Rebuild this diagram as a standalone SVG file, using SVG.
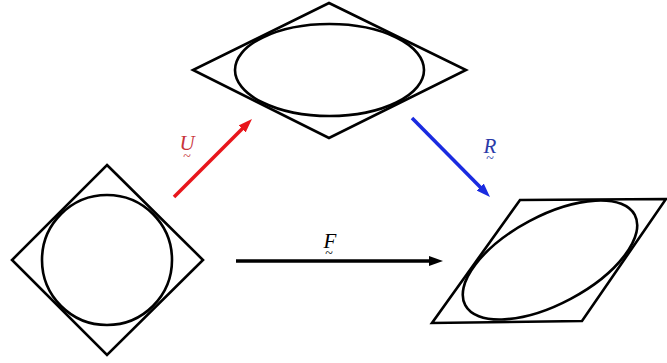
<svg xmlns="http://www.w3.org/2000/svg" width="667" height="363" viewBox="0 0 667 363">
<style>
.shape{fill:none;stroke:#000;stroke-width:2.6;stroke-linejoin:miter}
.arr{fill:none;stroke-width:3.6}
.lbl{font-family:"Liberation Serif",serif;font-style:italic;font-size:21px;text-anchor:middle}
.til{font-family:"Liberation Serif",serif;font-size:14px;text-anchor:middle}
</style>
<defs>
<marker id="hr" viewBox="0 -5 14 10" markerWidth="14" markerHeight="10" refX="2" refY="0" orient="auto" markerUnits="userSpaceOnUse"><path d="M0,-5 L14,0 L0,5 z" fill="#e8161c"/></marker>
<marker id="hb" viewBox="0 -5 14 10" markerWidth="14" markerHeight="10" refX="2" refY="0" orient="auto" markerUnits="userSpaceOnUse"><path d="M0,-5 L14,0 L0,5 z" fill="#1a2be0"/></marker>
<marker id="hk" viewBox="0 -5 14 10" markerWidth="14" markerHeight="10" refX="2" refY="0" orient="auto" markerUnits="userSpaceOnUse"><path d="M0,-5 L14,0 L0,5 z" fill="#000"/></marker>
</defs>
<rect width="667" height="363" fill="#fff"/>
<g id="node-circle">
<polygon class="shape" points="107,165 203,260 107,355 12,260"/>
<circle class="shape" cx="107" cy="260" r="65"/>
</g>
<g id="node-stretched">
<polygon class="shape" points="329,3 466,70 329,138 193,70"/>
<ellipse class="shape" cx="329.5" cy="70" rx="94.5" ry="46"/>
</g>
<g id="node-sheared">
<polygon class="shape" points="520,200 666,199 582,321 432,323"/>
<ellipse class="shape" cx="550" cy="260" rx="96" ry="44" transform="rotate(-28 550 260)"/>
</g>
<g id="connectors">
<line class="arr" x1="174" y1="197" x2="243.5" y2="127.5" stroke="#e8161c" marker-end="url(#hr)"/>
<line class="arr" x1="412" y1="118" x2="481.6" y2="188.5" stroke="#1a2be0" marker-end="url(#hb)"/>
<line class="arr" x1="236" y1="261" x2="431" y2="261" stroke="#000" marker-end="url(#hk)"/>
</g>
<g id="labels">
<text class="lbl" x="187" y="150" fill="#c8333a">U</text>
<text class="til" x="187" y="161" fill="#c8333a">~</text>
<text class="lbl" x="490" y="153" fill="#2a3aa8">R</text>
<text class="til" x="490" y="163" fill="#2a3aa8">~</text>
<text class="lbl" x="330" y="248" fill="#000">F</text>
<text class="til" x="329" y="258" fill="#000">~</text>
</g>
</svg>
